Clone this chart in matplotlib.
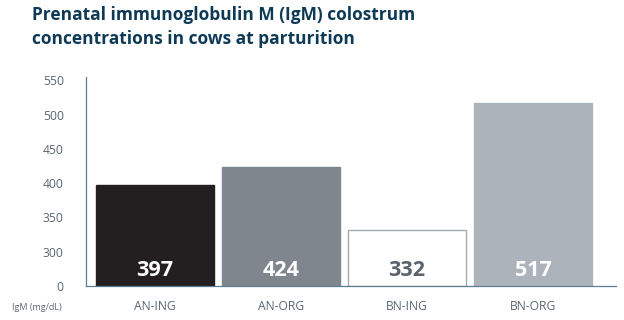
import matplotlib
matplotlib.use("Agg")
import matplotlib.pyplot as plt
import numpy as np

categories = ["AN-ING", "AN-ORG", "BN-ING", "BN-ORG"]
igm_values = [397, 424, 332, 517]
tick_values = [0, 300, 350, 400, 450, 500, 550]

bar_colors = ["#231f20", "#7f868d", "#ffffff", "#adb3ba"]
edge_colors = ["#231f20", "#7f868d", "#a3abb2", "#adb3ba"]
label_colors = ["#ffffff", "#ffffff", "#5b636b", "#ffffff"]

# broken axis: 0-300 squeezed into one 50-unit step
def fwd(v):
    v = np.asarray(v, dtype=float)
    return np.where(v < 300, v / 6.0, v - 250.0)

def inv(y):
    y = np.asarray(y, dtype=float)
    return np.where(y < 50, y * 6.0, y + 250.0)

plt.rcParams["font.family"] = ["Open Sans", "DejaVu Sans"]

fig = plt.figure(figsize=(6.24, 3.2), dpi=100)
ax = fig.add_axes([86 / 624, 34 / 320, 530 / 624, 209 / 320])
ax.set_yscale("function", functions=(fwd, inv))

x = np.arange(len(categories))
ax.bar(x, igm_values, width=0.94, color=bar_colors, edgecolor=edge_colors, linewidth=1.0)

for xi, v, c in zip(x, igm_values, label_colors):
    ax.annotate(str(v), xy=(xi, 0), xytext=(0, 11.5), textcoords="offset points",
                ha="center", va="center", fontsize=15.5,
                fontweight="bold", color=c)

ax.set_xlim(-0.548, 3.659)
ax.set_ylim(0, 555)
ax.set_yticks(tick_values)
ax.set_yticklabels([str(t) for t in tick_values])
ax.set_xticks(x)
ax.set_xticklabels(categories)
ax.tick_params(axis="both", length=0, labelsize=8.7, colors="#5a6570")
ax.tick_params(axis="y", pad=16)
ax.tick_params(axis="x", pad=10)

for s in ["top", "right"]:
    ax.spines[s].set_visible(False)
ax.spines["left"].set_color("#5a7d95")
ax.spines["bottom"].set_color("#5a7d95")
ax.spines["left"].set_linewidth(0.9)
ax.spines["bottom"].set_linewidth(0.9)

fig.text(12 / 624, 1 - 307 / 320, "IgM (mg/dL)", fontsize=6.5, color="#5a6570",
         ha="left", va="center")
fig.text(32 / 624, 1 - 6 / 320,
         "Prenatal immunoglobulin M (IgM) colostrum\nconcentrations in cows at parturition",
         fontsize=12.5, fontweight="bold", color="#0e3a56", ha="left", va="top",
         linespacing=1.42)

fig.savefig("out.png", dpi=100)
